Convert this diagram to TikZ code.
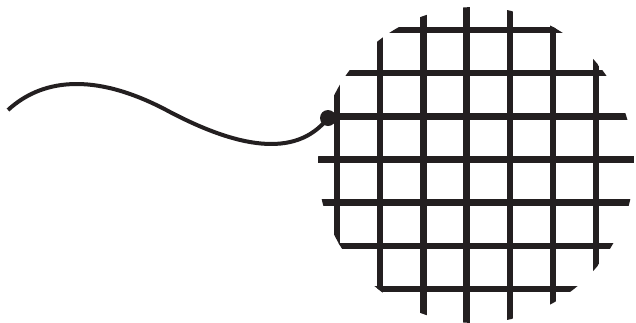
\documentclass[tikz,border=0pt]{standalone}
\begin{document}
\begin{tikzpicture}[x=1pt,y=-1pt,
  ink/.style={draw=inkc},
  gridline/.style={draw=inkc,line width=6.5pt},
  wire/.style={draw=inkc,line width=4pt},
  dotnode/.style={circle,fill=inkc,minimum size=16pt,inner sep=0pt}]
\definecolor{inkc}{HTML}{231F20}
\useasboundingbox (0,0) rectangle (636,322);
\begin{scope}
  \clip (476,165) circle (158);
  \foreach \i in {0,...,6} {
    \draw[gridline] ({337+43.2*\i},0) -- ({337+43.2*\i},330);
    \draw[gridline] (300,{30+43.17*\i}) -- (650,{30+43.17*\i});
  }
\end{scope}
\coordinate (start) at (8,110);
\node[dotnode] (dot) at (328,118) {};
\draw[wire] (start) .. controls (45,76) and (100,74) .. (170,112) .. controls (235,146) and (295,160) .. (dot.center);
\end{tikzpicture}
\end{document}
